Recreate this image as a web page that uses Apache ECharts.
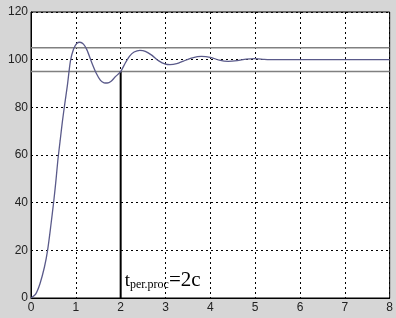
<!DOCTYPE html>
<html><head><meta charset="utf-8">
<script src="https://cdn.jsdelivr.net/npm/echarts@6/dist/echarts.min.js"></script>
<style>html,body{margin:0;padding:0;background:#d6d6d6;}#c{width:396px;height:318px;}</style>
</head><body><div id="c"></div>
<script>
const timeValues = [0,0.1,0.2,0.3,0.37,0.44,0.51,0.56,0.6,0.65,0.7,0.75,0.81,0.88,0.95,1.02,1.09,1.17,1.25,1.35,1.45,1.55,1.63,1.70,1.78,1.88,2.0,2.1,2.2,2.3,2.43,2.55,2.7,2.85,3.0,3.1,3.25,3.4,3.6,3.8,4.0,4.2,4.4,4.6,4.8,5.0,5.2,5.33,8];
const responseValues = [0,1.5,6,13,20,30,41,50,58,66,74,81,89,99.5,104.5,106.8,107.3,106.5,104,99,94.5,91.3,90.3,90.2,90.8,92.8,95,98.5,101.5,103.2,103.9,103.5,101.8,99.5,98.1,97.9,98.3,99.4,100.8,101.4,101.0,99.8,99.3,99.6,100.2,100.4,100.1,100,100];
const upperBand = 105;
const lowerBand = 95;
const settleTime = 2;
const xTicks = [0,1,2,3,4,5,6,7,8];
const yTicks = [0,20,40,60,80,100,120];

const chart = echarts.init(document.getElementById('c'));
const labelStyle = {color:'#222', fontFamily:'Liberation Sans, Arial, sans-serif', fontSize:12};
chart.setOption({
  backgroundColor:'#d6d6d6',
  animation:false,
  grid:{left:31,right:5,top:12,bottom:20,show:true,backgroundColor:'#fff',borderColor:'#000',borderWidth:1},
  xAxis:{type:'value',min:xTicks[0],max:xTicks[xTicks.length-1],interval:1,
    axisLine:{show:true,onZero:false,lineStyle:{color:'#000'}},
    axisTick:{show:false},
    axisLabel:Object.assign({margin:4},labelStyle),
    splitLine:{show:true,lineStyle:{color:'#000',type:[2,3],width:1}}},
  yAxis:{type:'value',min:yTicks[0],max:yTicks[yTicks.length-1],interval:20,
    axisLine:{show:true,lineStyle:{color:'#000'}},
    axisTick:{show:false},
    axisLabel:Object.assign({margin:3},labelStyle),
    splitLine:{show:true,lineStyle:{color:'#000',type:[2,3],width:1}}},
  series:[
    {type:'line',symbol:'none',silent:true,
     data:[[xTicks[0],upperBand],[xTicks[xTicks.length-1],upperBand]],
     lineStyle:{color:'#808080',width:1.5}},
    {type:'line',symbol:'none',silent:true,
     data:[[xTicks[0],lowerBand],[xTicks[xTicks.length-1],lowerBand]],
     lineStyle:{color:'#808080',width:1.5}},
    {type:'line',symbol:'none',silent:true,
     data:[[settleTime,0],[settleTime,lowerBand]],
     lineStyle:{color:'#000',width:2},
     markPoint:{symbol:'circle',symbolSize:0,
       data:[{coord:[settleTime,0],
         label:{show:true,position:'insideBottomLeft',offset:[-1,-2],
           formatter:'{t|t}{s|per.proc}{e|=2c}',
           rich:{
             t:{fontFamily:'Liberation Serif, Times New Roman, serif',fontSize:19,color:'#000',verticalAlign:'bottom'},
             s:{fontFamily:'Liberation Serif, Times New Roman, serif',fontSize:12,color:'#000',verticalAlign:'bottom'},
             e:{fontFamily:'Liberation Serif, Times New Roman, serif',fontSize:21,color:'#000',verticalAlign:'bottom'}
           }}}]}},
    {type:'line',symbol:'none',smooth:0.25,silent:true,
     data:timeValues.map((t,i)=>[t,responseValues[i]]),
     lineStyle:{color:'#5a5a8a',width:1.3}}
  ]
});
</script></body></html>
